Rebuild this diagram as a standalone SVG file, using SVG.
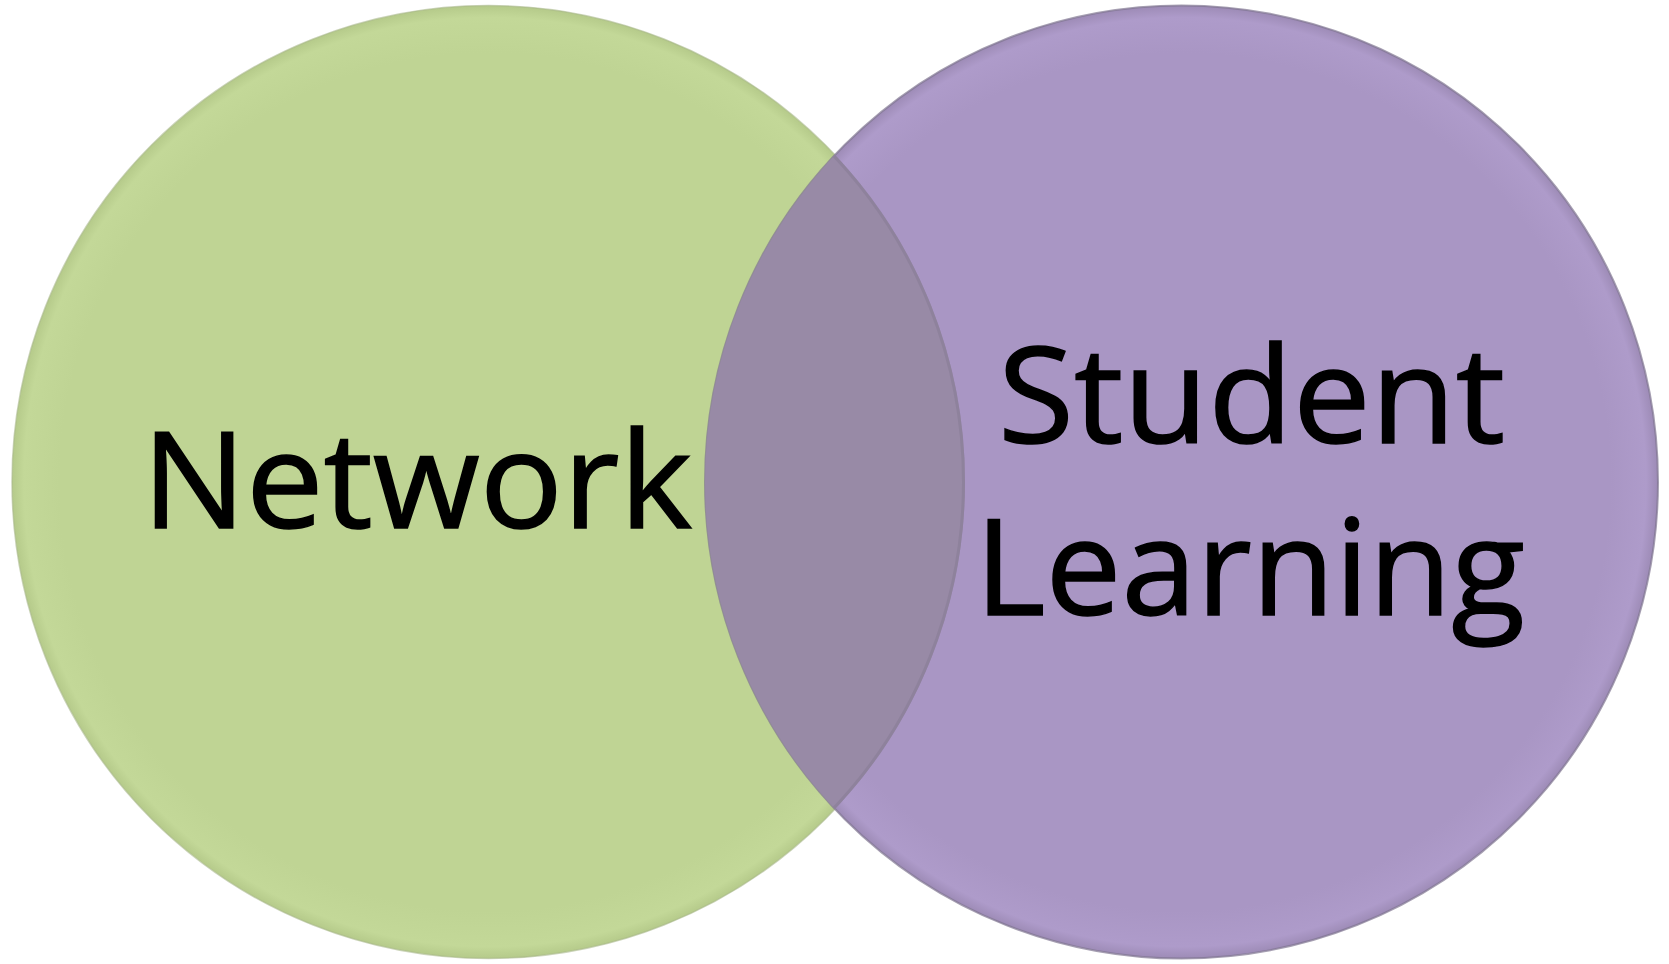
<svg xmlns="http://www.w3.org/2000/svg" width="1669" height="964" viewBox="0 0 1669 964">
<style>
.lbl{font-family:"Open Sans","Noto Sans","Liberation Sans",sans-serif;font-size:134px;fill:#000;stroke:#000;stroke-width:1.5;}
</style>
<defs>
<radialGradient id="gG" cx="0.5" cy="0.5" r="0.5">
<stop offset="0.9" stop-color="#bfd494"/>
<stop offset="0.975" stop-color="#c3d898"/>
<stop offset="1" stop-color="#b5ca8a"/>
</radialGradient>
<radialGradient id="gP" cx="0.5" cy="0.5" r="0.5">
<stop offset="0.9" stop-color="#a996c4"/>
<stop offset="0.975" stop-color="#ae9bca"/>
<stop offset="1" stop-color="#9d8bb6"/>
</radialGradient>
<clipPath id="clipL"><circle cx="488.5" cy="482" r="476.5"/></clipPath>
<clipPath id="clipR"><circle cx="1181.5" cy="482" r="476.5"/></clipPath>
</defs>
<rect width="1669" height="964" fill="#ffffff"/>
<g id="network">
<circle cx="488.5" cy="482" r="476.5" fill="url(#gG)" stroke="#a9b88a" stroke-width="1.5" stroke-opacity="0.6"/>
</g>
<g id="student-learning">
<circle cx="1181.5" cy="482" r="476.5" fill="url(#gP)" stroke="#7f7590" stroke-width="2" stroke-opacity="0.7"/>
</g>
<g id="overlap">
<circle cx="1181.5" cy="482" r="476.5" fill="#988aa6" clip-path="url(#clipL)"/>
<circle cx="488.5" cy="482" r="475" fill="none" stroke="#8c7f9a" stroke-width="3" clip-path="url(#clipR)" opacity="0.8"/>
</g>
<g id="labels">
<text class="lbl" x="142" y="528" textLength="550" lengthAdjust="spacingAndGlyphs">Network</text>
<text class="lbl" x="998" y="443" textLength="507" lengthAdjust="spacingAndGlyphs">Student</text>
<text class="lbl" x="975" y="615" textLength="550" lengthAdjust="spacingAndGlyphs">Learning</text>
</g>
</svg>
